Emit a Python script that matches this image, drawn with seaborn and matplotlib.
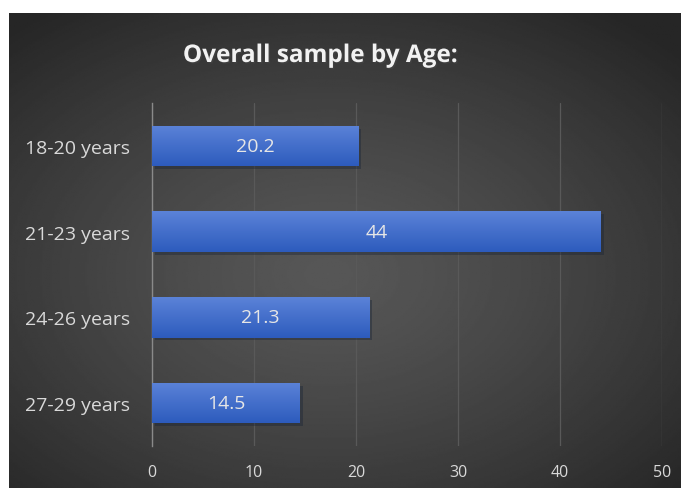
import matplotlib

matplotlib.use("Agg")
import matplotlib.pyplot as plt
import matplotlib.patheffects as pe
import numpy as np
import pandas as pd
import seaborn as sns

AGE_GROUPS = ["18-20 years", "21-23 years", "24-26 years", "27-29 years"]
PERCENT = [20.2, 44, 21.3, 14.5]
X_TICKS = [0, 10, 20, 30, 40, 50]
TITLE = "Overall sample by Age:"

FONT = ["Open Sans", "DejaVu Sans"]
TEXT_COLOR = "#d9d9d9"

df = pd.DataFrame({"age": AGE_GROUPS, "value": PERCENT})

sns.set_theme(style="dark")
plt.rcParams["font.family"] = FONT

fig = plt.figure(figsize=(6.81, 4.89), dpi=100)
fig.patch.set_facecolor("white")

# dark panel with a soft radial gradient
bg = fig.add_axes([9 / 681, 0, 672 / 681, 1 - 14 / 489])
yy, xx = np.mgrid[-1:1:300j, -1:1:400j]
r = np.sqrt(((xx + 0.05) / 1.25) ** 2 + ((yy - 0.1) / 1.2) ** 2)
shade = np.clip(0.34 - 0.16 * r ** 1.3, 0.15, 0.36)
bg.imshow(shade, cmap="gray", vmin=0, vmax=1, aspect="auto", extent=[0, 1, 0, 1])
bg.set_axis_off()

ax = fig.add_axes([152 / 681, 42 / 489, 510 / 681, 343 / 489])
ax.set_facecolor("none")
sns.barplot(data=df, y="age", x="value", orient="h", color="#4472c4", width=0.47,
            edgecolor="none", linewidth=0, ax=ax)

# gradient fill on bars (lighter top, darker bottom)
grad = np.linspace(0, 1, 100).reshape(-1, 1)
bar_cmap = matplotlib.colors.LinearSegmentedColormap.from_list("bar", ["#5b83d8", "#2d5bbd"])
for patch in ax.patches:
    x0, y0 = patch.get_x(), patch.get_y()
    w, h = patch.get_width(), patch.get_height()
    patch.set_path_effects([pe.SimplePatchShadow(offset=(2, -2), alpha=0.4), pe.Normal()])
    im = ax.imshow(grad, cmap=bar_cmap, aspect="auto", extent=[x0, x0 + w, y0 + h, y0], zorder=3)
    im.set_clip_path(patch)

for i, v in enumerate(PERCENT):
    label = f"{v:g}"
    ax.text(v / 2, i, label, ha="center", va="center", color="#e6e6e6", fontsize=14, zorder=5)

ax.set_xlim(0, 50)
ax.set_ylim(3.5, -0.5)
ax.set_xticks(X_TICKS)
ax.set_xlabel("")
ax.set_ylabel("")
ax.grid(axis="x", color="#595959", linewidth=0.9)
ax.grid(axis="y", visible=False)
ax.set_axisbelow(True)
for s in ["top", "right", "bottom"]:
    ax.spines[s].set_visible(False)
ax.spines["left"].set_color("#8a8a8a")
ax.spines["left"].set_linewidth(1)
ax.tick_params(axis="x", colors=TEXT_COLOR, labelsize=11.5, length=0, pad=13)
ax.tick_params(axis="y", colors=TEXT_COLOR, labelsize=14, length=0, pad=16)

fig.text(320 / 681, 1 - 57 / 489, TITLE, ha="center", va="center", color="#f2f2f2",
         fontsize=17.5, fontweight="bold",
         path_effects=[pe.withSimplePatchShadow(offset=(1, -1), alpha=0.5)])

fig.savefig("out.png", dpi=100)
